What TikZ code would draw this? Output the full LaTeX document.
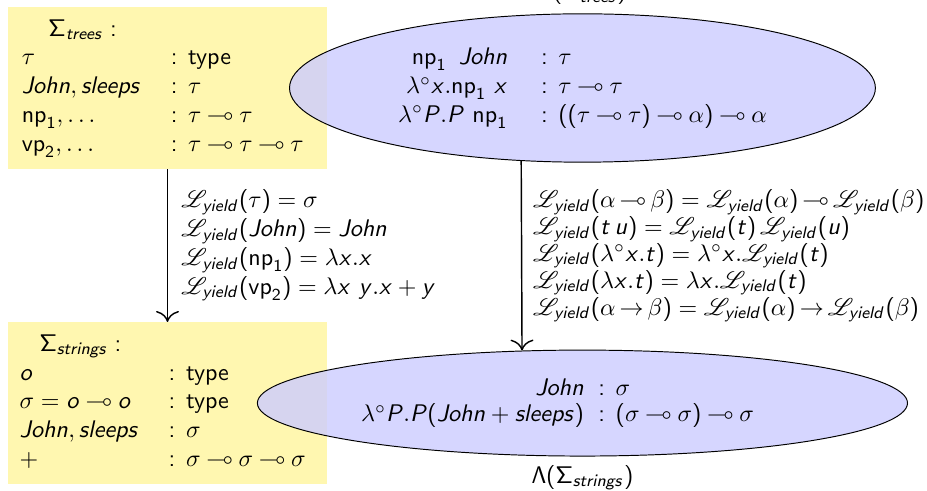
\documentclass[tikz,border=0pt]{standalone}
\usepackage{amssymb}
\usepackage{mathrsfs}
\usetikzlibrary{arrows.meta,positioning,shapes.geometric}
\DeclareSymbolFont{sfletters}{OT1}{cmss}{m}{sl}
\SetSymbolFont{operators}{normal}{OT1}{cmss}{m}{n}
\SetMathAlphabet{\mathrm}{normal}{OT1}{cmss}{m}{n}
\SetMathAlphabet{\mathit}{normal}{OT1}{cmss}{m}{sl}
\DeclareMathSymbol{o}{\mathalpha}{sfletters}{`o}
\DeclareMathSymbol{t}{\mathalpha}{sfletters}{`t}
\DeclareMathSymbol{u}{\mathalpha}{sfletters}{`u}
\DeclareMathSymbol{x}{\mathalpha}{sfletters}{`x}
\DeclareMathSymbol{y}{\mathalpha}{sfletters}{`y}
\DeclareMathSymbol{P}{\mathalpha}{sfletters}{`P}
\definecolor{sigyellow}{RGB}{255,247,176}
\definecolor{lexblue}{RGB}{204,204,255}
\newcommand{\Lyield}{\mathscr{L}_{\mathit{yield}}}
\newcommand{\lamo}{\lambda^{\circ}}
\newcommand{\limp}{\mathrel{\mkern-0.8mu\multimap\mkern-0.8mu}}
\newcommand{\limpt}{\mathrel{\mkern-2mu\multimap\mkern-2mu}}
\newcommand{\iimp}{\mathrel{\mkern-2mu\rightarrow\mkern-2mu}}
\tikzset{
  sigbox/.style={fill=sigyellow, minimum width=4.67cm, minimum height=2.36cm,
                 inner sep=0pt},
  lexell/.style={ellipse, draw, fill=lexblue, fill opacity=0.8, text opacity=1,
                 inner sep=0pt},
  marr/.style={-{To[length=1.6mm]}, semithick},
  maplbl/.style={midway, right, align=left, inner sep=3.5pt, xshift=2pt}}

\begin{document}
\begin{tikzpicture}[font=\sffamily]
    \useasboundingbox (0,0) rectangle (13.56,-7.18);
    \node[sigbox] (trees) at (2.45,-1.287)
      {\begin{tabular}{@{}p{2.18cm}@{}l@{\hspace{4pt}}}
         \multicolumn{2}{@{}l}{\hspace*{0.39cm}$\Sigma_{\mathit{trees}}:$}\\
         $\tau$ & : type\\
         $\mathit{John}, \mathit{sleeps}$ & : $\tau$\\
         $\mathrm{np}_1, \ldots$ & : $\tau \limp \tau$\\
         $\mathrm{vp}_2, \ldots$ & : $\tau \limp \tau \limp \tau$
       \end{tabular}};
    \node[sigbox] (strings) at (2.45,-5.896)
      {\begin{tabular}{@{}p{2.18cm}@{}l@{\hspace{4pt}}}
         \multicolumn{2}{@{}l}{\hspace*{0.29cm}$\Sigma_{\mathit{strings}}:$}\\
         $o$ & : type\\
         $\sigma = o \limp o$ & : type\\
         $\mathit{John}, \mathit{sleeps}$ & : $\sigma$\\
         $+$ & : $\sigma \limp \sigma \limp \sigma$
       \end{tabular}};
    \node[lexell, minimum width=8.57cm, minimum height=2.17cm,
          label={[name=treeslbl, text opacity=1]above:$\Lambda(\Sigma_{\mathit{trees}})$}] (tlex) at (8.52,-1.287)
      {\begin{tabular}{@{}r@{\hspace{14pt}}l@{}}
         $\mathrm{np}_1\enspace\mathit{John}$ & : $\tau$\\
         $\lamo x.\mathrm{np}_1\ x$ & : $\tau \limp \tau$\\
         $\lamo P.P\ \mathrm{np}_1$ & : $((\tau \limp \tau) \limp \alpha) \limp \alpha$
       \end{tabular}};
    \node[lexell, minimum width=9.51cm, minimum height=1.55cm,
          label={[name=stringslbl, text opacity=1]below:$\Lambda(\Sigma_{\mathit{strings}})$}] (slex) at (8.52,-5.896)
      {\begin{tabular}{@{}r@{\hspace{6pt}}l@{\hspace{0.73cm}}}
         $\mathit{John}$ & : $\sigma$\\[-1.2pt]
         $\lamo P.P(\mathit{John} + \mathit{sleeps})$ & : $(\sigma \limp \sigma) \limp \sigma$
       \end{tabular}};
    \draw[marr] (trees) -- node[maplbl] (treemap)
      {$\Lyield(\tau) = \sigma$\\
       $\Lyield(\mathit{John}) = \mathit{John}$\\
       $\Lyield(\mathrm{np}_1) = \lambda x.x$\\
       $\Lyield(\mathrm{vp}_2) = \lambda x\ y.x + y$} (strings);
    \draw[marr] (tlex.230) -- node[maplbl, xshift=-1pt] (lexmap)
      {$\Lyield(\alpha \limpt \beta) = \Lyield(\alpha) \limpt \Lyield(\beta)$\\[-0.8pt]
       $\Lyield(t\,u) = \Lyield(t)\,\Lyield(u)$\\[-0.8pt]
       $\Lyield(\lamo x.t) = \lamo x.\Lyield(t)$\\[-0.8pt]
       $\Lyield(\lambda x.t) = \lambda x.\Lyield(t)$\\[-0.8pt]
       $\Lyield(\alpha \iimp \beta) = \Lyield(\alpha) \iimp \Lyield(\beta)$} (slex.139);
  \end{tikzpicture}
\end{document}
